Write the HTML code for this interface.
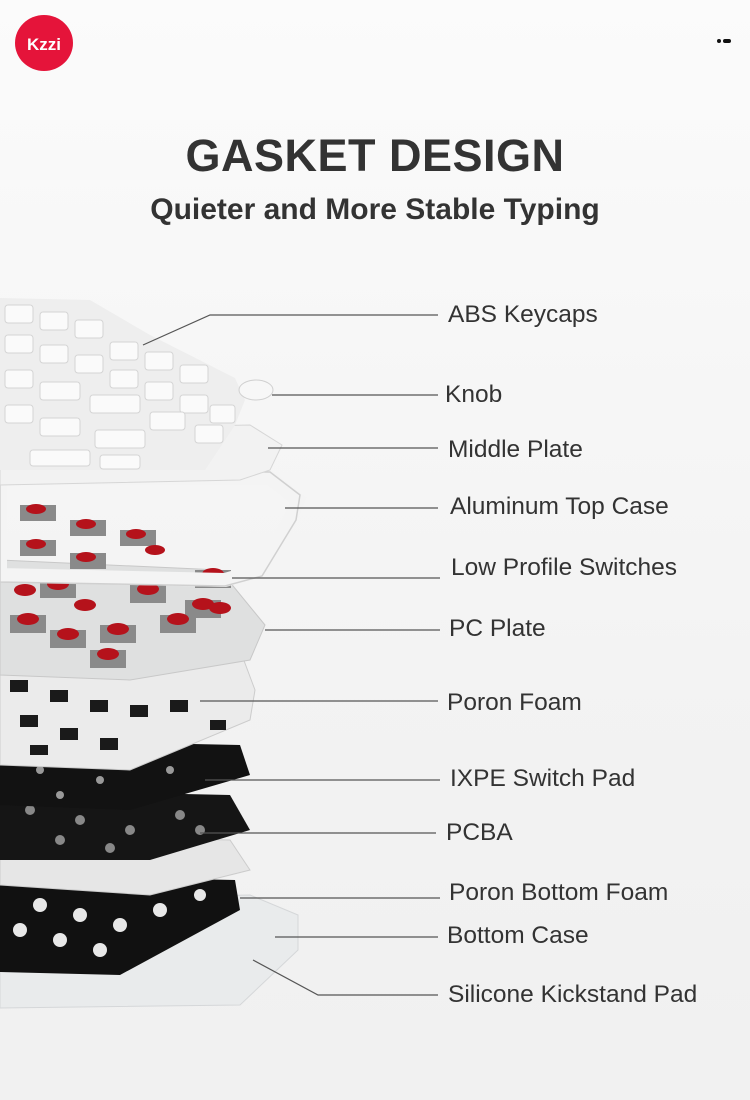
<!DOCTYPE html>
<html><head><meta charset="utf-8"><style>
html,body{margin:0;padding:0}
body{width:750px;height:1100px;overflow:hidden;background:linear-gradient(#fbfbfb,#f3f3f3 60%,#f0f0f0);font-family:"Liberation Sans",sans-serif;position:relative}
.t{position:absolute;left:0;width:750px;text-align:center;color:#333;font-weight:bold}
.l{position:absolute;font-size:24.5px;color:#333;white-space:nowrap}
</style></head><body>
<div class="t" style="top:130px;font-size:45px;letter-spacing:0.5px">GASKET DESIGN</div>
<div class="t" style="top:193px;font-size:30px">Quieter and More Stable Typing</div>
<div style="position:absolute;left:0;top:1010px;width:750px;height:90px;background:#f1f1f1"></div>
<svg width="750" height="1100" style="position:absolute;left:0;top:0">
<ellipse cx="44" cy="43" rx="29" ry="28" fill="#e5143a"/>
<text x="44" y="50" font-family="Liberation Sans" font-size="17" font-weight="bold" fill="#fff" text-anchor="middle">Kzzi</text>
<circle cx="719" cy="41" r="2" fill="#111"/><rect x="723" y="39" width="8" height="4" rx="2" fill="#111"/>
<polygon points="0,900 250,895 298,915 298,950 240,1005 0,1008" fill="#e9ebec" stroke="#d5d7d9"/>
<polygon points="0,875 235,880 240,910 120,975 0,972" fill="#111"/>
<g fill="#e8e8e8"><circle cx="40" cy="905" r="7"/><circle cx="80" cy="915" r="7"/><circle cx="120" cy="925" r="7"/><circle cx="60" cy="940" r="7"/><circle cx="100" cy="950" r="7"/><circle cx="160" cy="910" r="7"/><circle cx="20" cy="930" r="7"/><circle cx="200" cy="895" r="6"/></g>
<polygon points="0,835 230,840 250,870 150,895 0,885" fill="#e6e6e6" stroke="#ccc"/>
<polygon points="0,790 230,795 250,830 150,860 0,860" fill="#151515"/>
<g fill="#888"><circle cx="30" cy="810" r="5"/><circle cx="80" cy="820" r="5"/><circle cx="130" cy="830" r="5"/><circle cx="180" cy="815" r="5"/><circle cx="60" cy="840" r="5"/><circle cx="110" cy="848" r="5"/><circle cx="200" cy="830" r="5"/></g>
<polygon points="0,740 240,745 250,775 130,810 0,805" fill="#121212"/>
<g fill="#999"><circle cx="40" cy="770" r="4"/><circle cx="100" cy="780" r="4"/><circle cx="170" cy="770" r="4"/><circle cx="60" cy="795" r="4"/></g>
<polygon points="0,645 240,650 255,690 250,720 130,770 0,765" fill="#ebebeb" stroke="#ccc"/>
<g fill="#1a1a1a"><rect x="10" y="680" width="18" height="12"/><rect x="50" y="690" width="18" height="12"/><rect x="90" y="700" width="18" height="12"/><rect x="130" y="705" width="18" height="12"/><rect x="170" y="700" width="18" height="12"/><rect x="20" y="715" width="18" height="12"/><rect x="60" y="728" width="18" height="12"/><rect x="100" y="738" width="18" height="12"/><rect x="210" y="720" width="16" height="10"/><rect x="30" y="745" width="18" height="10"/></g>
<polygon points="0,560 220,570 265,625 250,660 130,680 0,675" fill="#dfe0e0" stroke="#c8c8c8"/>
<g fill="#8a8a8a">
<rect x="195" y="570" width="36" height="18"/><rect x="185" y="600" width="36" height="18"/><rect x="160" y="615" width="36" height="18"/><rect x="130" y="585" width="36" height="18"/><rect x="100" y="625" width="36" height="18"/><rect x="50" y="630" width="36" height="18"/><rect x="10" y="615" width="36" height="18"/><rect x="40" y="580" width="36" height="18"/><rect x="90" y="650" width="36" height="18"/></g>
<g fill="#b5121b">
<ellipse cx="213" cy="574" rx="11" ry="6"/><ellipse cx="203" cy="604" rx="11" ry="6"/><ellipse cx="178" cy="619" rx="11" ry="6"/><ellipse cx="148" cy="589" rx="11" ry="6"/><ellipse cx="118" cy="629" rx="11" ry="6"/><ellipse cx="68" cy="634" rx="11" ry="6"/><ellipse cx="28" cy="619" rx="11" ry="6"/><ellipse cx="58" cy="584" rx="11" ry="6"/><ellipse cx="108" cy="654" rx="11" ry="6"/><ellipse cx="220" cy="608" rx="11" ry="6"/><ellipse cx="25" cy="590" rx="11" ry="6"/><ellipse cx="85" cy="605" rx="11" ry="6"/></g>
<polygon points="0,478 270,478 298,500 290,520 260,570 225,580 0,575" fill="none" stroke="#f4f4f4" stroke-width="14"/>
<polygon points="0,470 270,472 300,495 296,520 262,576 225,586 0,582" fill="none" stroke="#d0d0d0" stroke-width="1.5"/>
<g fill="#8a8a8a"><rect x="20" y="505" width="36" height="16"/><rect x="70" y="520" width="36" height="16"/><rect x="120" y="530" width="36" height="16"/><rect x="20" y="540" width="36" height="16"/><rect x="70" y="553" width="36" height="16"/></g>
<g fill="#b5121b"><ellipse cx="36" cy="509" rx="10" ry="5"/><ellipse cx="86" cy="524" rx="10" ry="5"/><ellipse cx="136" cy="534" rx="10" ry="5"/><ellipse cx="36" cy="544" rx="10" ry="5"/><ellipse cx="86" cy="557" rx="10" ry="5"/><ellipse cx="155" cy="550" rx="10" ry="5"/></g>
<polygon points="0,430 250,425 282,445 270,470 240,480 0,485" fill="#f2f2f2" stroke="#d6d6d6"/>
<rect x="150" y="455" width="30" height="12" fill="#fff" stroke="#ddd"/>
<polygon points="0,298 90,300 150,335 235,378 245,400 235,425 205,470 0,470" fill="#eeeeee"/>
<g fill="#fafafa" stroke="#d4d4d4">
<rect x="5" y="305" width="28" height="18" rx="3"/><rect x="40" y="312" width="28" height="18" rx="3"/><rect x="75" y="320" width="28" height="18" rx="3"/>
<rect x="110" y="342" width="28" height="18" rx="3"/><rect x="145" y="352" width="28" height="18" rx="3"/><rect x="180" y="365" width="28" height="18" rx="3"/>
<rect x="5" y="335" width="28" height="18" rx="3"/><rect x="40" y="345" width="28" height="18" rx="3"/><rect x="75" y="355" width="28" height="18" rx="3"/><rect x="110" y="370" width="28" height="18" rx="3"/><rect x="145" y="382" width="28" height="18" rx="3"/><rect x="180" y="395" width="28" height="18" rx="3"/><rect x="210" y="405" width="25" height="18" rx="3"/>
<rect x="5" y="370" width="28" height="18" rx="3"/><rect x="40" y="382" width="40" height="18" rx="3"/><rect x="90" y="395" width="50" height="18" rx="3"/><rect x="150" y="412" width="35" height="18" rx="3"/><rect x="195" y="425" width="28" height="18" rx="3"/>
<rect x="5" y="405" width="28" height="18" rx="3"/><rect x="40" y="418" width="40" height="18" rx="3"/><rect x="95" y="430" width="50" height="18" rx="3"/><rect x="30" y="450" width="60" height="16" rx="3"/><rect x="100" y="455" width="40" height="14" rx="3"/></g>
<ellipse cx="256" cy="390" rx="17" ry="10" fill="#f7f7f7" stroke="#d0d0d0"/>
<g stroke="#555" stroke-width="1.2" fill="none">
<polyline points="143,345 210,315 438,315"/>
<line x1="272" y1="395" x2="438" y2="395"/>
<line x1="268" y1="448" x2="438" y2="448"/>
<line x1="285" y1="508" x2="438" y2="508"/>
<line x1="232" y1="578" x2="440" y2="578"/>
<line x1="265" y1="630" x2="440" y2="630"/>
<line x1="200" y1="701" x2="438" y2="701"/>
<line x1="205" y1="780" x2="440" y2="780"/>
<line x1="200" y1="833" x2="436" y2="833"/>
<line x1="240" y1="898" x2="440" y2="898"/>
<line x1="275" y1="937" x2="438" y2="937"/>
<polyline points="253,960 318,995 438,995"/>
</g>
</svg>
<div class="l" style="left:448px;top:301px">ABS Keycaps</div>
<div class="l" style="left:445px;top:381px">Knob</div>
<div class="l" style="left:448px;top:436px">Middle Plate</div>
<div class="l" style="left:450px;top:493px">Aluminum Top Case</div>
<div class="l" style="left:451px;top:554px">Low Profile Switches</div>
<div class="l" style="left:449px;top:615px">PC Plate</div>
<div class="l" style="left:447px;top:689px">Poron Foam</div>
<div class="l" style="left:450px;top:765px">IXPE Switch Pad</div>
<div class="l" style="left:446px;top:819px">PCBA</div>
<div class="l" style="left:449px;top:879px">Poron Bottom Foam</div>
<div class="l" style="left:447px;top:922px">Bottom Case</div>
<div class="l" style="left:448px;top:981px">Silicone Kickstand Pad</div>
</body></html>
